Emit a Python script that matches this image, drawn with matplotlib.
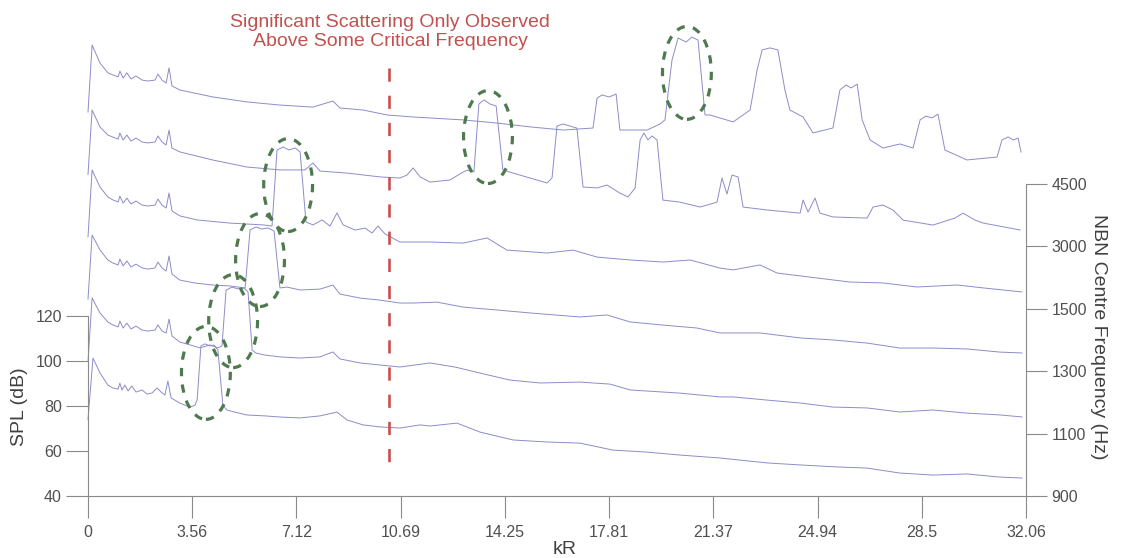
import numpy as np
import matplotlib
matplotlib.use('Agg')
import matplotlib.pyplot as plt
from matplotlib.patches import Ellipse

plt.rcParams['font.family'] = ['Liberation Sans', 'DejaVu Sans']

# ---------------- data ----------------
x_ticks = [0, 3.56, 7.12, 10.69, 14.25, 17.81, 21.37, 24.94, 28.5, 32.06]
x_tick_labels = ['0', '3.56', '7.12', '10.69', '14.25', '17.81', '21.37', '24.94', '28.5', '32.06']
spl_ticks = [40, 60, 80, 100, 120]
nbn_labels = ['900', '1100', '1300', '1500', '3000', '4500']
offset_step = 27.73          # dB shift between stacked spectra

# (kR, SPL dB), before stacking offset
trace_900 = [(0, 74), (0.17, 101.3), (0.41, 94.7), (0.68, 89.3), (0.85, 88.0), (1.03, 87.5), (1.09, 90.2),
             (1.16, 87.1), (1.26, 89.3), (1.37, 86.7), (1.50, 88.9), (1.64, 86.2), (1.85, 87.1), (2.02, 85.3),
             (2.19, 85.8), (2.36, 88.0), (2.50, 86.2), (2.63, 84.9), (2.73, 91.1), (2.84, 83.6), (3.14, 81.3),
             (3.49, 79.5), (3.66, 80.4), (3.73, 82.7), (3.86, 106.7), (4.00, 107.6), (4.17, 106.7), (4.31, 107.1),
             (4.44, 104.9), (4.61, 80.4), (4.75, 78.2), (5.02, 77.3), (5.43, 76.0), (6.05, 75.6), (6.56, 75.1),
             (7.25, 74.7), (7.93, 75.6), (8.51, 77.3), (8.85, 73.8), (9.40, 71.6), (9.98, 70.7), (10.66, 70.2),
             (11.35, 71.6), (11.69, 71.1), (12.61, 72.4), (13.40, 68.4), (14.53, 64.9), (15.69, 64.0),
             (16.82, 63.5), (17.94, 60.4), (19.11, 59.5), (20.23, 58.2), (21.60, 56.9), (23.21, 54.7),
             (24.34, 53.8), (25.46, 53.0), (26.63, 52.4), (27.75, 50.2), (28.88, 49.3), (30.04, 49.8),
             (31.17, 48.4), (31.92, 48.0)]

trace_1100 = [(0, 72), (0.14, 100.3), (0.41, 93.6), (0.68, 89.6), (0.85, 88.3), (1.03, 87.4), (1.09, 90.0),
              (1.20, 86.9), (1.33, 89.1), (1.47, 86.5), (1.64, 87.8), (1.85, 86.0), (2.05, 85.6), (2.29, 86.0),
              (2.39, 88.3), (2.53, 85.6), (2.67, 84.7), (2.77, 90.9), (2.87, 83.4), (3.14, 80.7), (3.49, 79.4),
              (3.83, 78.1), (4.17, 79.4), (4.44, 78.1), (4.58, 79.0), (4.72, 103.8), (4.92, 105.1), (5.13, 104.3),
              (5.33, 104.7), (5.47, 103.0), (5.61, 77.1), (5.74, 75.8), (6.05, 74.9), (6.56, 74.1), (7.25, 73.6),
              (7.93, 74.1), (8.37, 76.3), (8.61, 73.2), (9.30, 71.4), (9.98, 70.5), (10.66, 69.6), (11.69, 71.4),
              (12.54, 69.6), (13.40, 66.9), (14.42, 63.8), (15.45, 62.5), (16.82, 62.9), (17.84, 62.0),
              (18.53, 59.4), (20.23, 58.0), (21.60, 56.3), (22.05, 56.3), (23.21, 54.9), (24.34, 53.6),
              (25.46, 51.8), (26.63, 51.4), (27.75, 49.6), (28.88, 50.5), (30.04, 49.1), (31.17, 48.3),
              (31.92, 47.4)]

trace_1300 = [(0, 72), (0.14, 100.5), (0.41, 93.9), (0.68, 89.4), (0.85, 88.1), (1.03, 87.2), (1.09, 89.9),
              (1.20, 86.8), (1.33, 89.0), (1.47, 86.3), (1.64, 87.6), (1.85, 85.9), (2.05, 85.4), (2.29, 85.9),
              (2.39, 88.5), (2.53, 85.9), (2.67, 84.5), (2.77, 91.2), (2.87, 83.2), (3.14, 80.5), (3.66, 79.2),
              (4.27, 78.3), (4.85, 77.9), (5.37, 77.0), (5.54, 102.8), (5.74, 104.1), (5.95, 103.2), (6.15, 103.7),
              (6.36, 102.3), (6.56, 77.0), (6.80, 77.4), (7.25, 76.1), (7.93, 76.5), (8.37, 78.3), (8.61, 74.3),
              (9.30, 72.5), (9.98, 71.6), (10.66, 70.3), (11.11, 70.3), (11.93, 70.7), (12.82, 68.5),
              (13.98, 67.2), (15.11, 65.9), (16.82, 64.1), (17.74, 65.0), (18.53, 61.9), (19.65, 60.5),
              (20.81, 59.2), (21.60, 57.0), (22.05, 57.0), (22.97, 57.0), (24.34, 54.8), (25.46, 53.9),
              (26.63, 52.5), (27.75, 50.3), (28.88, 50.3), (30.04, 49.9), (31.17, 48.5), (31.92, 48.1)]

trace_1500 = [(0, 72), (0.14, 101.7), (0.41, 94.1), (0.68, 89.7), (0.85, 88.4), (1.03, 87.5), (1.09, 90.1),
              (1.20, 87.0), (1.33, 89.2), (1.47, 86.6), (1.64, 87.9), (1.85, 86.1), (2.05, 85.7), (2.29, 86.1),
              (2.39, 88.8), (2.53, 86.1), (2.67, 84.8), (2.77, 91.5), (2.87, 83.5), (3.14, 81.3), (3.73, 79.5),
              (4.85, 78.1), (5.98, 77.3), (6.29, 76.8), (6.46, 110.6), (6.67, 111.9), (6.87, 110.6), (7.08, 111.5),
              (7.25, 109.7), (7.45, 78.6), (7.69, 77.3), (8.00, 79.5), (8.27, 76.8), (8.51, 82.6), (8.72, 77.3),
              (9.13, 75.0), (9.47, 75.9), (9.71, 73.7), (9.91, 76.8), (10.15, 73.3), (10.66, 69.7), (11.69, 69.7),
              (12.82, 69.2), (13.64, 71.5), (14.32, 66.1), (15.69, 64.8), (16.58, 66.1), (17.40, 63.0),
              (18.53, 61.7), (19.65, 60.8), (20.58, 61.7), (21.60, 58.1), (22.05, 57.3), (22.97, 59.5),
              (23.55, 55.9), (24.92, 53.7), (26.05, 51.9), (27.17, 51.5), (28.33, 49.7), (29.70, 50.6),
              (30.59, 49.3), (31.92, 47.5)]

trace_3000 = [(0, 72), (0.14, 100.6), (0.41, 93.1), (0.68, 89.5), (0.85, 88.6), (1.03, 87.7), (1.09, 90.4),
              (1.20, 87.3), (1.33, 89.5), (1.47, 86.8), (1.64, 88.2), (1.85, 86.4), (2.05, 86.0), (2.29, 86.4),
              (2.39, 89.1), (2.53, 86.4), (2.67, 85.1), (2.77, 91.7), (2.87, 83.7), (3.14, 82.0), (4.27, 78.4),
              (5.43, 75.3), (6.56, 74.0), (7.42, 74.0), (7.69, 77.1), (7.93, 73.5), (8.85, 72.6), (9.98, 70.9),
              (10.66, 70.4), (10.90, 71.7), (11.11, 74.9), (11.35, 70.9), (11.69, 68.6), (12.37, 69.5),
              (12.71, 72.2), (12.95, 73.9), (13.19, 73.1), (13.36, 103.3), (13.54, 105.1), (13.74, 103.3),
              (13.95, 102.4), (14.18, 74.0), (14.53, 72.6), (15.11, 70.4), (15.69, 68.2), (15.86, 70.4),
              (16.03, 93.5), (16.24, 94.4), (16.47, 93.5), (16.71, 92.6), (16.92, 66.4), (17.40, 66.0),
              (17.74, 67.3), (18.18, 63.7), (18.46, 62.0), (18.70, 66.0), (18.87, 87.3), (19.00, 90.4),
              (19.14, 87.3), (19.28, 89.1), (19.45, 87.3), (19.65, 60.6), (20.23, 59.7), (20.92, 57.5),
              (21.50, 59.7), (21.67, 70.4), (21.84, 63.3), (22.01, 71.7), (22.22, 70.9), (22.39, 57.5),
              (23.21, 56.2), (24.34, 54.8), (24.44, 60.6), (24.61, 55.3), (24.85, 61.5), (25.02, 54.8),
              (25.46, 53.1), (26.63, 52.6), (26.83, 57.5), (27.17, 58.4), (27.51, 56.2), (27.86, 51.7),
              (28.88, 49.5), (29.63, 52.6), (29.91, 54.8), (30.32, 51.7), (30.59, 50.4), (31.86, 47.3)]

trace_4500 = [(0, 72), (0.14, 101.8), (0.41, 93.8), (0.68, 89.4), (0.85, 88.5), (1.03, 87.6), (1.09, 90.2),
              (1.20, 87.1), (1.33, 89.4), (1.47, 86.7), (1.64, 88.0), (1.85, 86.2), (2.05, 85.8), (2.29, 86.2),
              (2.39, 88.9), (2.53, 86.2), (2.67, 84.9), (2.77, 91.6), (2.87, 83.6), (3.14, 81.8), (4.27, 78.7),
              (5.43, 76.5), (6.56, 75.1), (7.69, 74.2), (8.37, 76.9), (8.61, 73.8), (9.40, 72.9), (10.22, 70.7),
              (11.11, 69.8), (12.82, 68.5), (13.98, 67.1), (15.11, 65.4), (16.24, 64.0), (17.26, 64.9),
              (17.40, 78.2), (17.57, 79.6), (17.81, 78.7), (18.05, 80.0), (18.18, 64.0), (19.11, 64.0),
              (19.55, 66.7), (19.72, 68.5), (19.96, 95.1), (20.17, 104.9), (20.44, 103.1), (20.64, 105.3),
              (20.85, 104.0), (21.09, 70.7), (21.26, 70.7), (22.05, 67.6), (22.63, 72.9), (22.87, 90.7),
              (23.04, 99.6), (23.31, 100.5), (23.58, 99.6), (23.82, 81.8), (23.99, 72.9), (24.44, 69.8),
              (24.78, 62.7), (25.46, 64.9), (25.70, 81.8), (25.91, 84.0), (26.08, 82.7), (26.29, 84.4),
              (26.46, 68.5), (26.73, 59.6), (27.17, 56.0), (27.75, 57.8), (28.20, 56.0), (28.44, 68.5),
              (28.64, 70.2), (28.85, 69.4), (29.05, 71.1), (29.29, 55.1), (30.04, 50.7), (31.07, 52.0),
              (31.24, 59.6), (31.45, 60.9), (31.62, 59.6), (31.79, 60.4), (31.89, 54.2)]

traces = [trace_900, trace_1100, trace_1300, trace_1500, trace_3000, trace_4500]

# highlighted scattering peaks: (kR centre, SPL centre before offset, trace index)
highlight_kr = [4.03, 4.96, 5.88, 6.84, 13.67, 20.47]
highlight_spl = [94.7, 90.0, 89.4, 95.0, 88.6, 89.4]
highlight_trace = [0, 1, 2, 3, 4, 5]
ellipse_w, ellipse_h = 1.67, 41.3

critical_kr = 10.3
critical_span = (230.2, 55.1)

# ---------------- figure ----------------
W, H = 1127, 558
fig = plt.figure(figsize=(W / 100, H / 100), dpi=100)
ax = fig.add_axes([88 / W, 62 / H, (1026 - 88) / W, 496 / H])
ax.set_xlim(0, 32.06)
ax.set_ylim(40, 40 + 496 / 2.25)

trace_color = '#8c8cca'
axis_color = '#8a8a8a'
label_color = '#505050'

for i, tr in enumerate(traces):
    arr = np.array(tr)
    ax.plot(arr[:, 0], arr[:, 1] + i * offset_step, color=trace_color, lw=0.7, clip_on=False)

for kr, spl, ti in zip(highlight_kr, highlight_spl, highlight_trace):
    e = Ellipse((kr, spl + ti * offset_step), ellipse_w, ellipse_h, fill=False,
                ec='#4f7a50', lw=2.3, ls=(0, (2.6, 2.6)), clip_on=False, zorder=5)
    ax.add_patch(e)

ax.plot([critical_kr, critical_kr], list(critical_span), color='#c9504f', lw=1.9,
        ls=(0, (5.0, 5.3)), zorder=4)

fig.text(390 / W, 1 - 32 / H, 'Significant Scattering Only Observed\nAbove Some Critical Frequency',
         ha='center', va='center', fontsize=14, color='#c2514f', linespacing=1.2)

# axes styling
for s in ['top', 'right']:
    ax.spines[s].set_visible(False)
ax.spines['left'].set_bounds(40, 120)
for s in ['left', 'bottom']:
    ax.spines[s].set_color(axis_color)
    ax.spines[s].set_linewidth(0.8)
ax.set_xticks(x_ticks)
ax.set_xticklabels(x_tick_labels)
ax.set_yticks(spl_ticks)
ax.tick_params(axis='both', direction='out', length=15.8, width=0.8, color=axis_color,
               labelsize=11.5, labelcolor=label_color)
ax.tick_params(axis='x', pad=5)
ax.tick_params(axis='y', pad=3)

ax2 = ax.twinx()
ax2.set_ylim(ax.get_ylim())
for s in ['top', 'left', 'bottom']:
    ax2.spines[s].set_visible(False)
ax2.spines['right'].set_bounds(40, 40 + 5 * offset_step)
ax2.spines['right'].set_color(axis_color)
ax2.spines['right'].set_linewidth(0.8)
ax2.set_yticks([40 + i * offset_step for i in range(len(nbn_labels))])
ax2.set_yticklabels(nbn_labels)
ax2.tick_params(axis='y', direction='out', length=15.2, width=0.8, color=axis_color,
                labelsize=11.5, labelcolor=label_color, pad=3)

fig.text(19 / W, 1 - 407 / H, 'SPL (dB)', rotation=90, ha='center', va='center',
         fontsize=14, color='#404040')
fig.text(565 / W, 1 - 549 / H, 'kR', ha='center', va='center', fontsize=14, color='#404040')
fig.text(1099 / W, 1 - 337 / H, 'NBN Centre Frequency (Hz)', rotation=270, ha='center', va='center',
         fontsize=14, color='#404040')

fig.savefig('out.png', dpi=100)
